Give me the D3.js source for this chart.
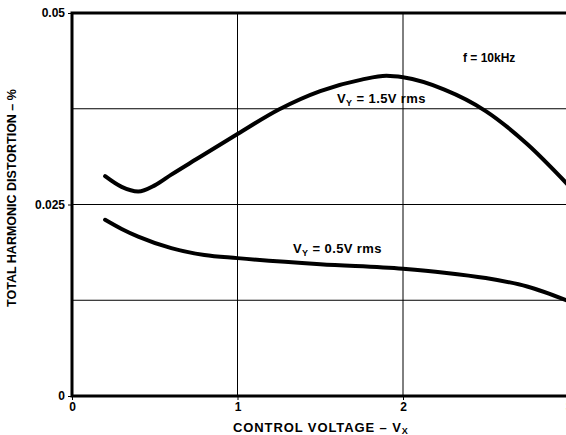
<!DOCTYPE html>
<html>
<head>
<meta charset="utf-8">
<script src="https://cdn.jsdelivr.net/npm/d3@7"></script>
<style>
  body { margin: 0; background: #fff; }
  svg { display: block; font-family: "Liberation Sans", Arial, sans-serif; font-weight: bold; }
</style>
</head>
<body>
<svg id="chart"></svg>
<script>
// THD vs control voltage, two drive levels

const xTicks = [0, 1, 2, 3];
const yTicks = [0, 0.025, 0.05];
const xGrid = [1, 2, 3];
const yGrid = [0.0125, 0.025, 0.0375];

const vx = [0.2, 0.3, 0.4, 0.5, 0.6, 0.75, 1.0, 1.25, 1.5, 1.75, 1.9, 2.0, 2.25, 2.5, 2.75, 3.0];
const thd15 = [0.0287, 0.0273, 0.0267, 0.0275, 0.0289, 0.0309, 0.0342, 0.0374, 0.0398, 0.0413, 0.0418, 0.0416, 0.0400, 0.0372, 0.0329, 0.0275];

const vx05 = [0.2, 0.3, 0.4, 0.6, 0.8, 1.0, 1.5, 2.0, 2.25, 2.5, 2.75, 3.0];
const thd05 = [0.0230, 0.0218, 0.0208, 0.0193, 0.0184, 0.0180, 0.0172, 0.0166, 0.0161, 0.0154, 0.0143, 0.0124];

const W = 566, H = 435;
const svg = d3.select("#chart").attr("width", W).attr("height", H);

const x = d3.scaleLinear().domain([0, 3]).range([72, 568.5]);
const y = d3.scaleLinear().domain([0, 0.05]).range([396, 13]);

// grid
svg.append("g")
    .selectAll("line")
    .data(xGrid)
    .enter()
    .append("line")
    .attr("x1", d => x(d)).attr("x2", d => x(d))
    .attr("y1", y(0)).attr("y2", y(0.05))
    .attr("stroke", "#000").attr("stroke-width", 1);
svg.append("g")
    .selectAll("line")
    .data(yGrid)
    .enter()
    .append("line")
    .attr("x1", x(0)).attr("x2", x(3))
    .attr("y1", d => y(d)).attr("y2", d => y(d))
    .attr("stroke", "#000").attr("stroke-width", 1);

// axes
let xAxis = d3.axisBottom(x).tickValues(xTicks).tickSize(4).tickFormat(d3.format("d"));
let yAxis = d3.axisLeft(y).tickValues(yTicks).tickSize(4).tickFormat(d => d === 0 ? "0" : String(d));

let gx = svg.append("g")
    .attr("transform", "translate(0," + y(0) + ")")
    .call(xAxis);
gx.select(".domain").remove();
gx.selectAll("line").attr("stroke-width", 1);
gx.selectAll("text")
    .attr("font-size", "12px")
    .attr("font-weight", "bold")
    .attr("font-family", "Liberation Sans, Arial, sans-serif")
    .attr("fill", "#000")
    .attr("dy", "0.65em");

let gy = svg.append("g")
    .attr("transform", "translate(" + x(0) + ",0)")
    .call(yAxis);
gy.select(".domain").remove();
gy.selectAll("line").attr("stroke-width", 1);
gy.selectAll("text")
    .attr("font-size", "12px")
    .attr("font-weight", "bold")
    .attr("font-family", "Liberation Sans, Arial, sans-serif")
    .attr("fill", "#000")
    .attr("x", -7);

// heavy frame: left, bottom, top
svg.append("path")
    .attr("d", "M" + x(3) + "," + y(0.05) + "H" + x(0) + "V" + y(0) + "H" + x(3))
    .attr("fill", "none")
    .attr("stroke", "#000")
    .attr("stroke-width", 3);

// curves
const lineFun = d3.line()
    .x(d => x(d[0]))
    .y(d => y(d[1]))
    .curve(d3.curveMonotoneX);

svg.append("path")
    .attr("d", lineFun(d3.zip(vx, thd15)))
    .attr("fill", "none")
    .attr("stroke", "#000")
    .attr("stroke-width", 4)
    .attr("stroke-linecap", "round");

svg.append("path")
    .attr("d", lineFun(d3.zip(vx05, thd05)))
    .attr("fill", "none")
    .attr("stroke", "#000")
    .attr("stroke-width", 4)
    .attr("stroke-linecap", "round");

// annotations
function vyLabel(px, py, txt) {
    let t = svg.append("text")
        .attr("x", px).attr("y", py)
        .attr("font-size", "13px")
        .attr("letter-spacing", "0.4px");
    t.append("tspan").text("V");
    t.append("tspan").attr("font-size", "9px").attr("dy", 3).text("Y");
    t.append("tspan").attr("dy", -3).text(" = " + txt);
}
vyLabel(337, 103, "1.5V rms");
vyLabel(293, 253, "0.5V rms");

svg.append("text")
    .attr("x", 463).attr("y", 62)
    .attr("font-size", "12px")
    .text("f = 10kHz");

// axis titles
let xt = svg.append("text")
    .attr("x", 233).attr("y", 432)
    .attr("font-size", "13px")
    .attr("letter-spacing", "0.9px");
xt.append("tspan").text("CONTROL VOLTAGE – V");
xt.append("tspan").attr("font-size", "9px").attr("dy", 2).text("X");

svg.append("text")
    .attr("transform", "translate(16,198) rotate(-90)")
    .attr("text-anchor", "middle")
    .attr("font-size", "12.5px")
    .text("TOTAL HARMONIC DISTORTION – %");
</script>
</body>
</html>
